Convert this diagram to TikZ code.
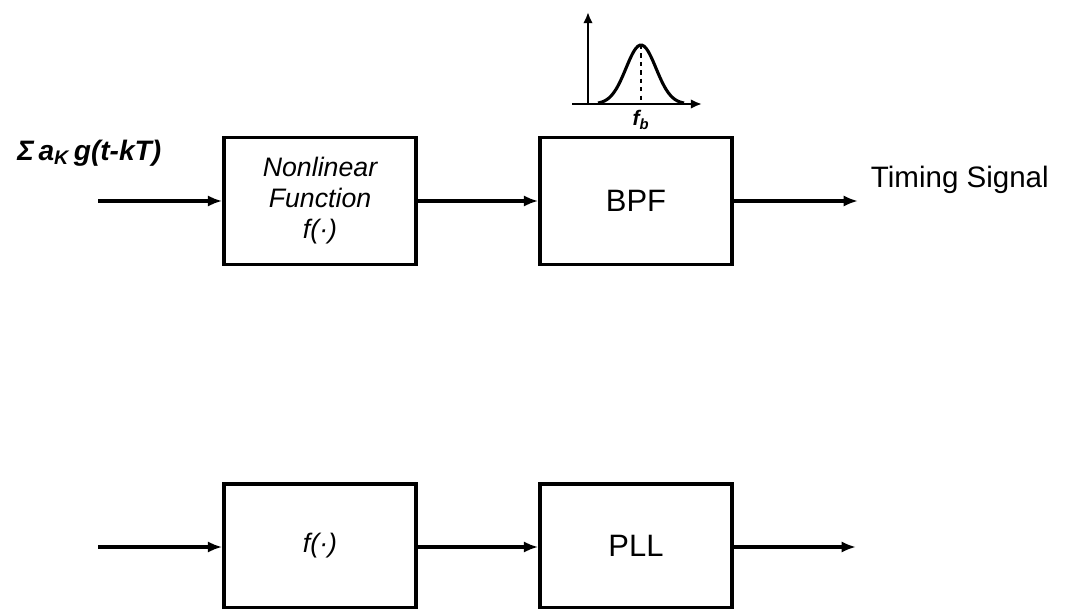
\documentclass[tikz,border=0pt]{standalone}
\usepackage{fontspec}
\setmainfont{Liberation Sans}
\usetikzlibrary{arrows.meta, positioning}

\begin{document}
\begin{tikzpicture}[
    x=0.025cm, y=-0.025cm,
    block/.style={rectangle, draw=black, line width=2.4pt, minimum width=4.8cm, minimum height=3.175cm, align=center, font=\fontsize{19}{22}\selectfont\itshape},
    arrow/.style={-{Latex[length=3.6mm, width=2.8mm]}, line width=2.2pt},
    axis/.style={-{Latex[length=2.8mm, width=2.4mm]}, line width=2pt},
    label/.style={font=\fontsize{21}{25}\selectfont},
]
\useasboundingbox (0,0) rectangle (1071,609);

% Upper chain: nonlinear function + BPF
\coordinate (in1) at (98,201);
\node[block] (nonlin) at (320,201) {Nonlinear\\Function\\\textit{f}(·)};
\node[block, font=\fontsize{22}{26}\selectfont] (bpf) at (636,201) {BPF};
\coordinate (out1) at (858,201);

\draw[arrow] (in1) -- (nonlin.west);
\draw[arrow] (nonlin.east) -- (bpf.west);
\draw[arrow] (bpf.east) -- (out1);

% Input and output labels
\node[label, anchor=west, inner sep=0pt, font=\fontsize{20}{24}\selectfont\itshape\bfseries] (sig) at (17,153) {Σ\,a\textsubscript{K}\,g(t-kT)};
\node[label, anchor=west] (timing) at (866,180) {Timing Signal};

% Pass band sketch above the BPF
\coordinate (org) at (588,104);
\coordinate (vtop) at (588,12);
\coordinate (hleft) at (572,104);
\coordinate (hright) at (702,104);
\coordinate (peak) at (641,45);
\draw[axis] (org) -- (vtop);
\draw[axis] (hleft) -- (hright);
\draw[line width=2.2pt] plot[smooth, domain=598:684, samples=40] (\x, {104-59*exp(-((\x-641)^2)/(2*15^2))});
\draw[line width=1.6pt, dashed] (peak) -- (641,104);
\node[font=\fontsize{15}{17}\selectfont\itshape\bfseries] (fb) at (641,120) {f\textsubscript{b}};

% Lower chain: f and PLL
\coordinate (in2) at (98,547);
\node[block, minimum height=3.1cm] (fbox) at (320,546) {\textit{f}(·)};
\node[block, minimum height=3.1cm, font=\fontsize{22}{26}\selectfont] (pll) at (636,546) {PLL};
\coordinate (out2) at (856,547);

\draw[arrow] (in2) -- (fbox.west |- in2);
\draw[arrow] (fbox.east |- in2) -- (pll.west |- in2);
\draw[arrow] (pll.east |- in2) -- (out2);

\end{tikzpicture}
\end{document}
